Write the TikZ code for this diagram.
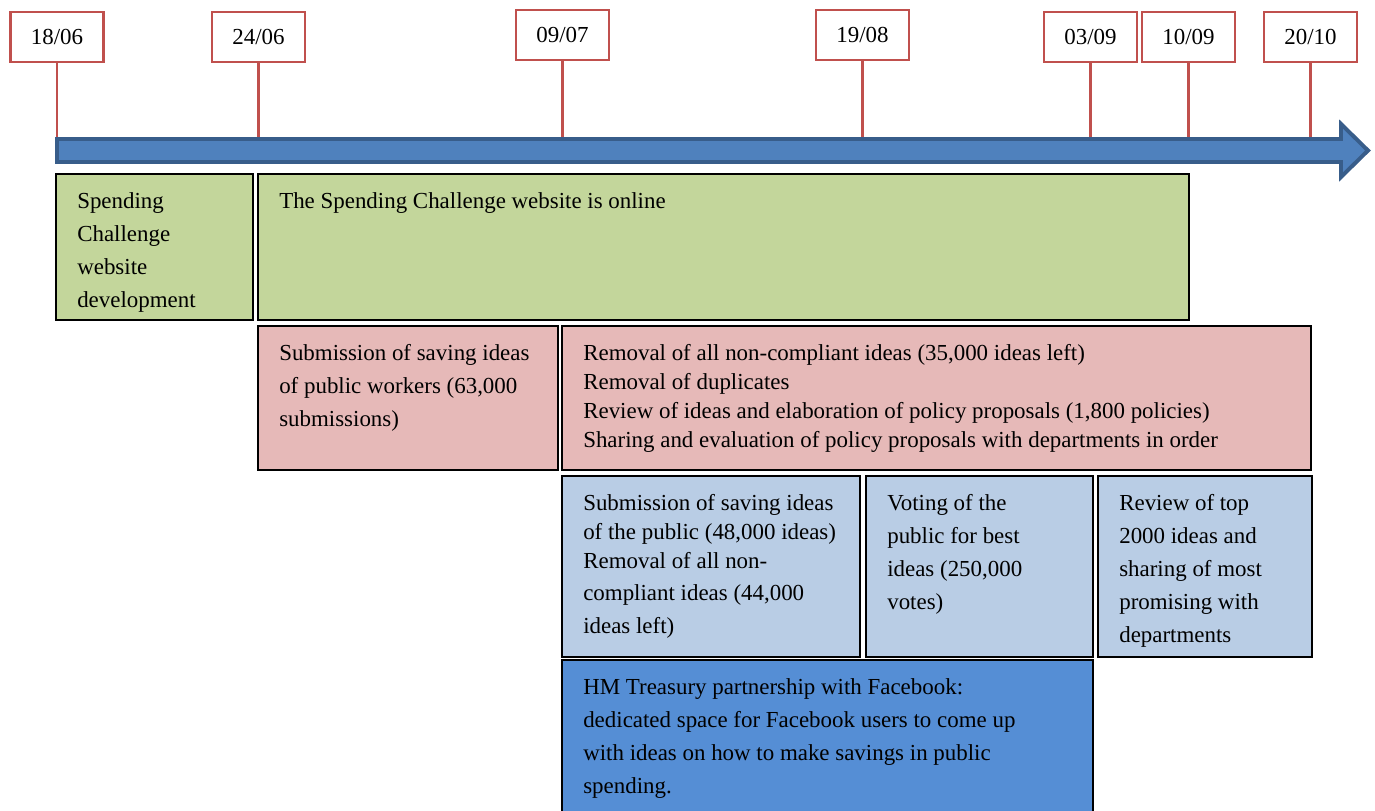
\documentclass[tikz,border=0pt]{standalone}
\usepackage{fontspec}
\setmainfont{Liberation Serif}
\usepackage{tikz}
\usetikzlibrary{positioning}

\definecolor{datered}{HTML}{C0504D}
\definecolor{axisfill}{HTML}{4F81BD}
\definecolor{axisline}{HTML}{385D8A}
\definecolor{webgreen}{HTML}{C3D69B}
\definecolor{workpink}{HTML}{E6B9B8}
\definecolor{publicblue}{HTML}{B9CDE5}
\definecolor{fbblue}{HTML}{558ED5}

\begin{document}
\begin{tikzpicture}[x=0.025cm, y=-0.025cm,
    datebox/.style={rectangle, draw=datered, line width=1.5pt, fill=white, minimum width=2.325cm, minimum height=1.25cm, font=\fontsize{16.3}{18}\selectfont},
    stem/.style={draw=datered, line width=1.5pt},
    phase/.style={draw=black, line width=1.3pt},
    txt/.style={anchor=north west, inner sep=0pt, align=left, font=\fontsize{16.3}{23.5}\selectfont},
    tighttxt/.style={txt, font=\fontsize{16.3}{20.6}\selectfont}
]
    \useasboundingbox (0,0) rectangle (1375,810);
    \clip (0,0) rectangle (1375,810);

    % Time axis
    \draw[axisline, fill=axisfill, line width=2.8pt, line join=miter]
        (57,139) -- (1341,139) -- (1341,124) -- (1368,150.5) -- (1341,177) -- (1341,162) -- (57,162) -- cycle;
    \coordinate (axis) at (0,137);

    % Dates
    \node[datebox] (d1806) at (57,37) {18/06};
    \node[datebox] (d2406) at (258.5,37) {24/06};
    \node[datebox] (d0907) at (562.5,35) {09/07};
    \node[datebox] (d1908) at (862.5,35) {19/08};
    \node[datebox] (d0309) at (1090.5,37) {03/09};
    \node[datebox] (d1009) at (1188.5,37) {10/09};
    \node[datebox] (d2010) at (1310.5,37) {20/10};
    \foreach \d in {d1806,d2406,d0907,d1908,d0309,d1009,d2010}
        \draw[stem] (\d) -- (\d |- axis);

    % Website
    \draw[phase, fill=webgreen] (56,174) rectangle (253,320);
    \node[txt] (dev) at (77,192) {Spending\\Challenge\\website\\development};
    \draw[phase, fill=webgreen] (258,174) rectangle (1189,320);
    \node[txt] (online) at (279,192) {The Spending Challenge website is online};

    % Public workers
    \draw[phase, fill=workpink] (258,326) rectangle (558,470);
    \node[txt] (workers) at (279,344) {Submission of saving ideas\\of public workers (63,000\\submissions)};
    \draw[phase, fill=workpink] (562,326) rectangle (1311,470);
    \node[tighttxt] (review) at (583,344) {Removal of all non-compliant ideas (35,000 ideas left)\\Removal of duplicates\\Review of ideas and elaboration of policy proposals (1,800 policies)\\Sharing and evaluation of policy proposals with departments in order};

    % Public
    \draw[phase, fill=publicblue] (562,476) rectangle (860,657);
    \node[tighttxt] (public) at (583,494) {Submission of saving ideas\\of the public (48,000 ideas)\\Removal of all non-\\[2pt]compliant ideas (44,000\\[3pt]ideas left)};
    \draw[phase, fill=publicblue] (866,476) rectangle (1093,657);
    \node[txt] (voting) at (887,494) {Voting of the\\public for best\\ideas (250,000\\votes)};
    \draw[phase, fill=publicblue] (1098,476) rectangle (1312,657);
    \node[txt] (top) at (1119,494) {Review of top\\2000 ideas and\\sharing of most\\promising with\\departments};

    % Facebook
    \draw[phase, fill=fbblue] (562,660) rectangle (1093,830);
    \node[txt] (fb) at (583,678) {HM Treasury partnership with Facebook:\\dedicated space for Facebook users to come up\\with ideas on how to make savings in public\\spending.};
\end{tikzpicture}
\end{document}
